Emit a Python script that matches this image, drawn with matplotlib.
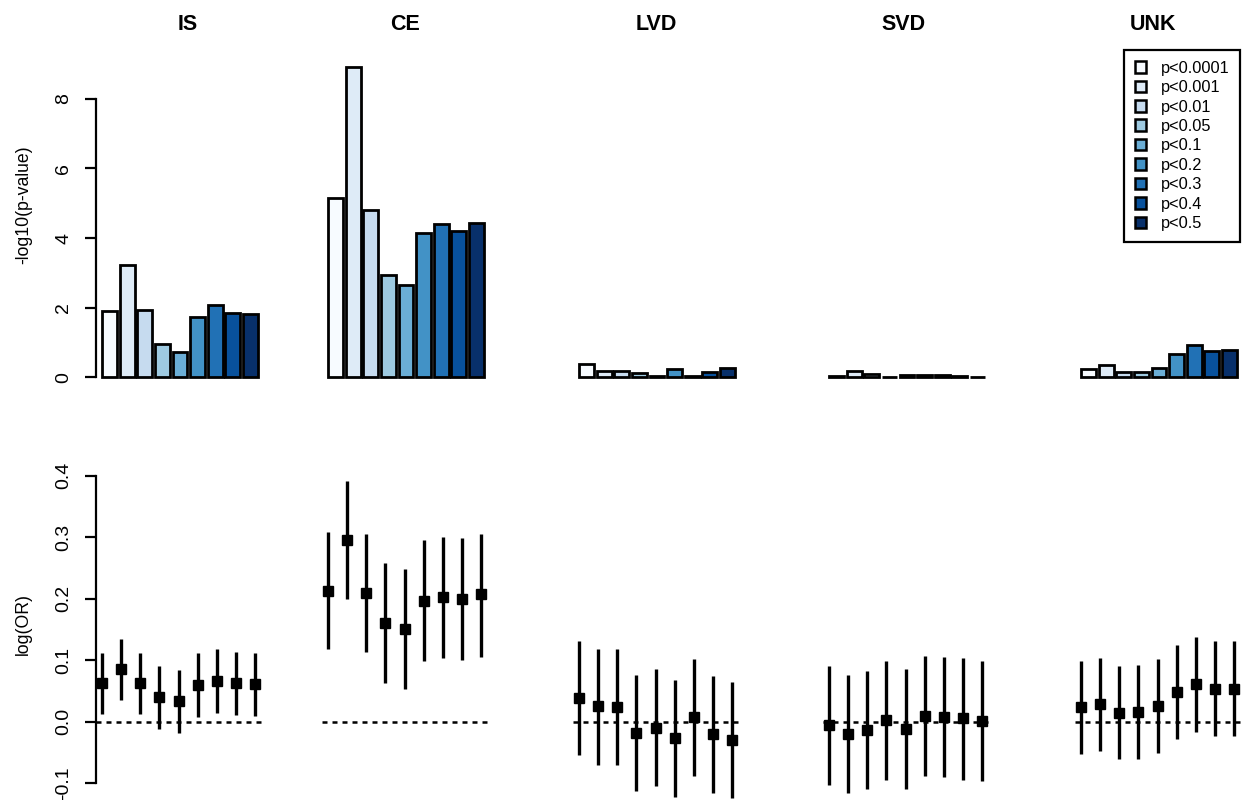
import numpy as np
import matplotlib
matplotlib.use("Agg")
import matplotlib.pyplot as plt
from matplotlib.patches import Patch

plt.rcParams["font.family"] = ["Liberation Sans", "DejaVu Sans"]

groupes = ["IS", "CE", "LVD", "SVD", "UNK"]
seuils = ["p<0.0001", "p<0.001", "p<0.01", "p<0.05", "p<0.1",
          "p<0.2", "p<0.3", "p<0.4", "p<0.5"]
couleurs = ["#F7FBFF", "#DEEBF7", "#C6DBEF", "#9ECAE1", "#6BAED6",
            "#4292C6", "#2171B5", "#08519C", "#08306B"]

# -log10(p-value) par groupe
logp_IS = [1.91, 3.22, 1.92, 0.97, 0.74, 1.74, 2.07, 1.86, 1.81]
logp_CE = [5.16, 8.92, 4.82, 2.95, 2.65, 4.16, 4.40, 4.20, 4.43]
logp_LVD = [0.38, 0.17, 0.17, 0.12, 0.05, 0.23, 0.05, 0.16, 0.27]
logp_SVD = [0.03, 0.17, 0.10, 0.02, 0.08, 0.06, 0.06, 0.03, 0.01]
logp_UNK = [0.25, 0.35, 0.14, 0.15, 0.28, 0.68, 0.94, 0.76, 0.78]

# log(OR) et intervalles
or_IS = [0.063, 0.085, 0.063, 0.041, 0.034, 0.059, 0.066, 0.063, 0.062]
haut_IS = [0.111, 0.135, 0.112, 0.091, 0.084, 0.111, 0.118, 0.113, 0.112]
bas_IS = [0.013, 0.035, 0.013, -0.011, -0.018, 0.008, 0.015, 0.011, 0.010]

or_CE = [0.213, 0.295, 0.210, 0.160, 0.151, 0.197, 0.203, 0.200, 0.207]
haut_CE = [0.308, 0.391, 0.305, 0.258, 0.249, 0.296, 0.301, 0.299, 0.306]
bas_CE = [0.119, 0.199, 0.113, 0.063, 0.053, 0.098, 0.104, 0.100, 0.106]

or_LVD = [0.039, 0.025, 0.024, -0.019, -0.010, -0.027, 0.007, -0.020, -0.030]
haut_LVD = [0.132, 0.118, 0.118, 0.076, 0.085, 0.068, 0.102, 0.075, 0.065]
bas_LVD = [-0.054, -0.070, -0.070, -0.112, -0.105, -0.122, -0.088, -0.116, -0.124]

or_SVD = [-0.006, -0.020, -0.013, 0.003, -0.012, 0.009, 0.008, 0.006, 0.001]
haut_SVD = [0.090, 0.076, 0.083, 0.099, 0.086, 0.107, 0.106, 0.103, 0.099]
bas_SVD = [-0.103, -0.116, -0.109, -0.095, -0.109, -0.088, -0.090, -0.094, -0.096]

or_UNK = [0.024, 0.029, 0.015, 0.016, 0.026, 0.049, 0.061, 0.054, 0.054]
haut_UNK = [0.099, 0.104, 0.090, 0.093, 0.102, 0.125, 0.138, 0.131, 0.132]
bas_UNK = [-0.052, -0.047, -0.060, -0.060, -0.050, -0.028, -0.016, -0.023, -0.023]

logp = [logp_IS, logp_CE, logp_LVD, logp_SVD, logp_UNK]
log_or = [or_IS, or_CE, or_LVD, or_SVD, or_UNK]
ic_haut = [haut_IS, haut_CE, haut_LVD, haut_SVD, haut_UNK]
ic_bas = [bas_IS, bas_CE, bas_LVD, bas_SVD, bas_UNK]

W, H = 1248, 800
fig = plt.figure(figsize=(12.48, 8), dpi=100)

gauches = [96, 322, 573, 823, 1075]
largeur = 168
titre_x = [188, 405, 656, 903, 1153]

x_barres = np.arange(9) * 1.2 + 0.7
x_points = np.arange(1, 10)


def style_axe(ax, bornes, ticks, labels):
    for s in ["top", "right", "bottom"]:
        ax.spines[s].set_visible(False)
    ax.spines["left"].set_bounds(*bornes)
    ax.spines["left"].set_linewidth(1.6)
    ax.set_xticks([])
    ax.set_yticks(ticks)
    ax.set_yticklabels(labels, rotation=90, va="center", ha="right")
    ax.tick_params(axis="y", length=8, width=1.6, pad=9, labelsize=14)
    ax.patch.set_alpha(0)


for i, g in enumerate(groupes):
    # ligne du haut : barres
    ax = fig.add_axes([gauches[i] / W, (H - 390) / H, largeur / W, 335 / H])
    ax.bar(x_barres, logp[i], width=1, color=couleurs,
           edgecolor="black", linewidth=2.0)
    ax.set_xlim(-0.224, 11.224)
    ax.set_ylim(-0.365, 9.26)
    if i == 0:
        style_axe(ax, (0, 8), [0, 2, 4, 6, 8], ["0", "2", "4", "6", "8"])
        ax.set_ylabel("-log10(p-value)", fontsize=12.7)
        ax.yaxis.set_label_coords(-0.381, 0.552)
    else:
        ax.axis("off")
    fig.text(titre_x[i] / W, 1 - 25 / H, g, ha="center", va="center",
             fontsize=15.5, fontweight="bold")

    # ligne du bas : log(OR)
    ax2 = fig.add_axes([gauches[i] / W, 2 / H, largeur / W, 333 / H])
    ax2.axhline(0, color="black", lw=1.8, linestyle=(0, (2, 2)))
    ax2.vlines(x_points, ic_bas[i], ic_haut[i], color="black", lw=2.4,
               clip_on=False)
    ax2.plot(x_points, log_or[i], "s", color="black", markersize=7.8,
             clip_on=False)
    ax2.set_xlim(0.70, 9.45)
    ax2.set_ylim(-0.1239, 0.4174)
    if i == 0:
        style_axe(ax2, (-0.1, 0.4), [-0.1, 0, 0.1, 0.2, 0.3, 0.4],
                  ["-0.1", "0.0", "0.1", "0.2", "0.3", "0.4"])
        ax2.set_ylabel("log(OR)", fontsize=12.7)
        ax2.yaxis.set_label_coords(-0.381, 0.5225)
    else:
        for s in ax2.spines.values():
            s.set_visible(False)
        ax2.set_xticks([])
        ax2.set_yticks([])
        ax2.patch.set_alpha(0)

poignees = [Patch(facecolor=c, edgecolor="black", linewidth=1.8) for c in couleurs]
leg = fig.legend(poignees, seuils, loc="upper right",
                 bbox_to_anchor=(1240 / W, 1 - 50 / H), fontsize=11.8,
                 handlelength=0.7, handleheight=0.7, handletextpad=0.9,
                 labelspacing=0.27, borderpad=0.65, borderaxespad=0,
                 fancybox=False, framealpha=1)
leg.get_frame().set_edgecolor("black")
leg.get_frame().set_linewidth(1.6)

fig.savefig("out.png", dpi=100)
